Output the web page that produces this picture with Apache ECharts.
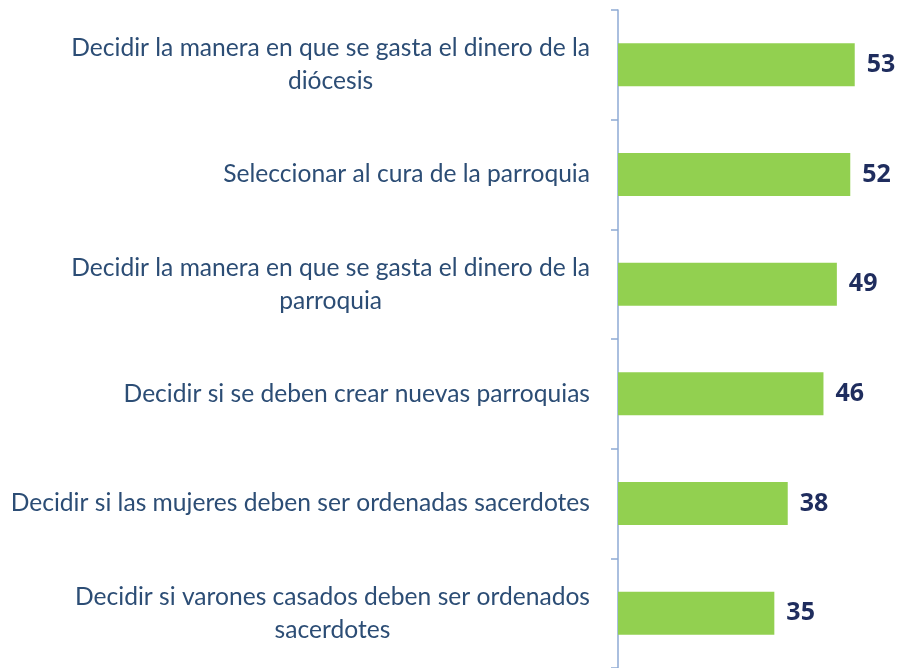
<!DOCTYPE html>
<html>
<head>
<meta charset="utf-8">
<script src="https://cdn.jsdelivr.net/npm/echarts@6/dist/echarts.min.js"></script>
<style>
  html, body { margin: 0; padding: 0; background: #fff; }
  #chart { width: 900px; height: 668px; }
</style>
</head>
<body>
<div id="chart"></div>
<script>
const categories = [
  "Decidir la manera en que se gasta el dinero de la\ndiócesis",
  "Seleccionar al cura de la parroquia",
  "Decidir la manera en que se gasta el dinero de la\nparroquia",
  "Decidir si se deben crear nuevas parroquias",
  "Decidir si las mujeres deben ser ordenadas sacerdotes",
  "Decidir si varones casados deben ser ordenados\nsacerdotes"
];
const values = [53, 52, 49, 46, 38, 35];

const chart = echarts.init(document.getElementById("chart"));

chart.setOption({
  animation: false,
  backgroundColor: "#ffffff",
  grid: { left: 618, right: 14, top: 10, bottom: 0, containLabel: false },
  xAxis: {
    type: "value",
    min: 0,
    max: 60,
    show: false
  },
  yAxis: {
    type: "category",
    data: categories,
    inverse: true,
    axisLine: { lineStyle: { color: "#8eaad4", width: 1.5 } },
    axisTick: { show: true, length: 7, lineStyle: { color: "#8eaad4", width: 1.5 } },
    axisLabel: {
      margin: 28,
      align: "right",
      // each line centred within the right-aligned block
      formatter: (v) => v.split("\n").map((s) => "{c|" + s + "}").join("\n"),
      rich: {
        c: {
          align: "center",
          color: "#2c4d75",
          fontFamily: "Lato",
          fontSize: 24.6,
          lineHeight: 33
        }
      }
    },
    splitLine: { show: false }
  },
  series: [
    {
      type: "bar",
      data: values,
      barWidth: 43,
      itemStyle: { color: "#92d050" },
      label: {
        show: true,
        position: "right",
        distance: 12,
        color: "#1f2d5e",
        fontFamily: "Noto Sans",
        fontWeight: "bold",
        fontSize: 25
      }
    }
  ]
});
</script>
</body>
</html>
